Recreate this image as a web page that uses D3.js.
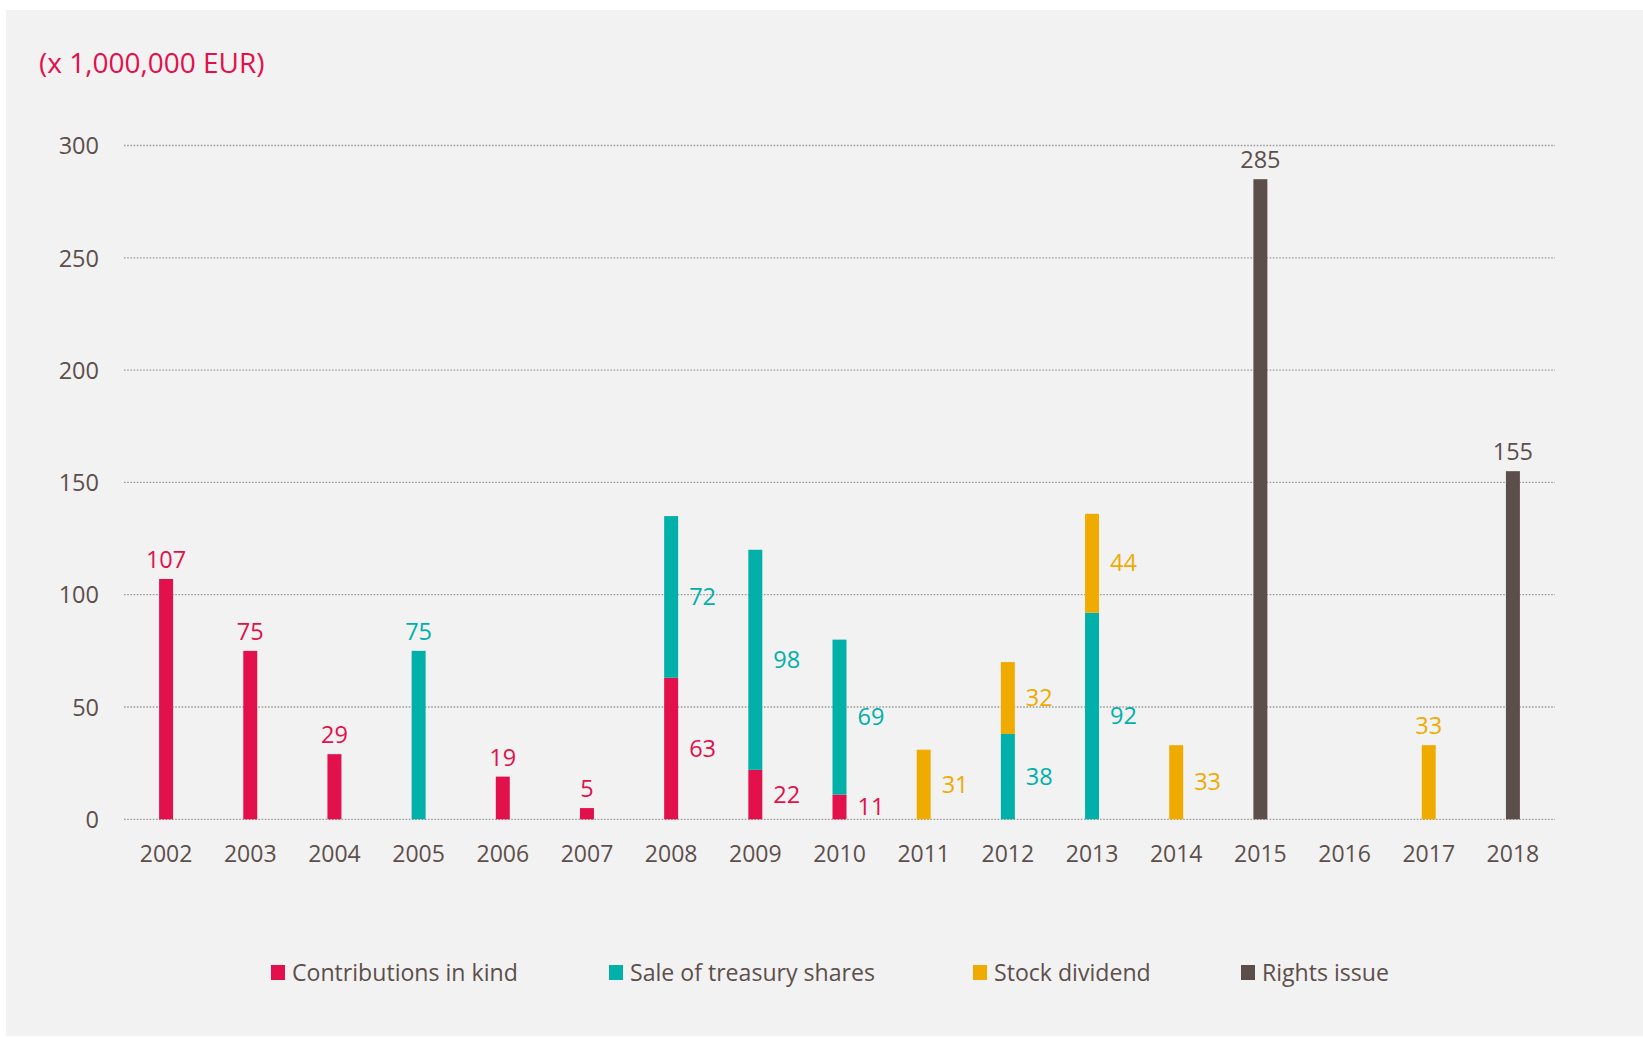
<!DOCTYPE html>
<html><head><meta charset="utf-8">
<script src="https://cdn.jsdelivr.net/npm/d3@7"></script>
<style>
html,body{margin:0;padding:0;background:#ffffff;}
svg{display:block;font-family:"Open Sans",sans-serif;}
</style></head>
<body>
<svg id="chart" width="1643" height="1037"></svg>
<script>
// ---- data ----
const years = ["2002","2003","2004","2005","2006","2007","2008","2009","2010","2011","2012","2013","2014","2015","2016","2017","2018"];
const contributionsInKind = [107,75,29,0,19,5,63,22,11,0,0,0,0,0,0,0,0];
const saleOfTreasuryShares = [0,0,0,75,0,0,72,98,69,0,38,92,0,0,0,0,0];
const stockDividend = [0,0,0,0,0,0,0,0,0,31,32,44,33,0,0,33,0];
const rightsIssue = [0,0,0,0,0,0,0,0,0,0,0,0,0,285,0,0,155];
const seriesNames = ["Contributions in kind","Sale of treasury shares","Stock dividend","Rights issue"];
const yTicks = [0,50,100,150,200,250,300];
const unitLabel = "(x 1,000,000 EUR)";

// ---- layout / style ----
const colors = ["#e2104b","#00b0a9","#f0ab00","#5c4f4b"];
const textColor = "#5c4f4b";
const sideLabelYears = ["2011","2014"]; // single bars whose label sits to the right

const svg = d3.select("#chart");
svg.append("rect").attr("x",6).attr("y",10).attr("width",1637).attr("height",1026).attr("fill","#f2f2f2");

const x = d3.scaleBand().domain(years).range([124,1555]).paddingInner(0.834).paddingOuter(0.417);
const y = d3.scaleLinear().domain([0,300]).range([819.3,145.5]);

// title
svg.append("text").attr("x",39).attr("y",63).attr("dy","0.35em")
  .attr("fill","#e2104b").attr("font-size",28).text(unitLabel);

// gridlines + y axis
const yAxis = d3.axisLeft(y).tickValues(yTicks).tickSize(0).tickPadding(0);
const gy = svg.append("g").attr("transform","translate(99,0)").call(yAxis);
gy.select(".domain").remove();
gy.selectAll("text").attr("fill",textColor).attr("font-size",23.5).attr("font-family","Open Sans").attr("dy","0.35em");

svg.append("g").selectAll("line").data(yTicks).join("line")
  .attr("x1",124).attr("x2",1555).attr("y1",d=>y(d)).attr("y2",d=>y(d))
  .attr("stroke","#9a9a9a").attr("stroke-width",1.3).attr("stroke-dasharray","1.6,1.6");

// x axis
const xAxis = d3.axisBottom(x).tickSize(0).tickPadding(0);
const gx = svg.append("g").attr("transform","translate(0,854)").call(xAxis);
gx.select(".domain").remove();
gx.selectAll("text").attr("fill",textColor).attr("font-size",23).attr("font-family","Open Sans").attr("dy","0.35em");

// stacked data
const table = years.map((yr,i)=>({year:yr, s0:contributionsInKind[i], s1:saleOfTreasuryShares[i], s2:stockDividend[i], s3:rightsIssue[i]}));
const keys = ["s0","s1","s2","s3"];
const stacked = d3.stack().keys(keys)(table);

const gBars = svg.append("g");
stacked.forEach((layer,k)=>{
  gBars.selectAll(null).data(layer.filter(d=>d[1]-d[0]>0)).join("rect")
    .attr("x",d=>x(d.data.year)).attr("width",x.bandwidth())
    .attr("y",d=>y(d[1])).attr("height",d=>y(d[0])-y(d[1]))
    .attr("fill",colors[k]);
});

// labels
const gLab = svg.append("g").attr("font-size",23.5);
table.forEach((row,i)=>{
  const nz = keys.filter(k=>row[k]>0);
  const side = nz.length>1 || sideLabelYears.includes(row.year);
  let base = 0;
  keys.forEach((k,ki)=>{
    const v = row[k];
    if(v<=0) return;
    if(side){
      gLab.append("text").attr("x",x(row.year)+x.bandwidth()+11)
        .attr("y",y(base+v/2)).attr("dy","0.35em")
        .attr("fill",colors[ki]).text(v);
    } else {
      gLab.append("text").attr("x",x(row.year)+x.bandwidth()/2)
        .attr("y",y(base+v)-19).attr("dy","0.35em").attr("text-anchor","middle")
        .attr("fill",colors[ki]).text(v);
    }
    base += v;
  });
});

// legend
const legendX = [271,609,973,1241];
const gLeg = svg.append("g");
seriesNames.forEach((n,i)=>{
  gLeg.append("rect").attr("x",legendX[i]).attr("y",965).attr("width",14).attr("height",15).attr("fill",colors[i]);
  gLeg.append("text").attr("x",legendX[i]+21).attr("y",972.5).attr("dy","0.35em")
    .attr("font-size",23.1).attr("fill",textColor).text(n);
});
</script>
</body></html>
